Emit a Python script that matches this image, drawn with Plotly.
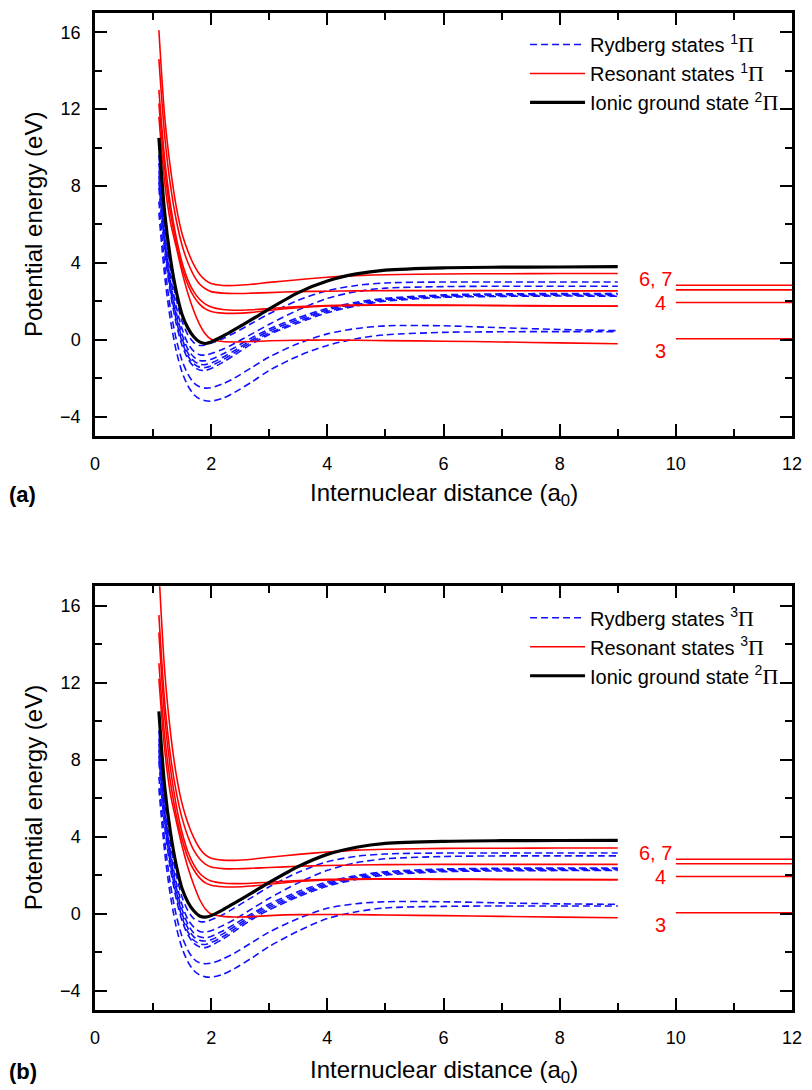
import plotly.graph_objects as go

# ---------------- data ----------------
r_grid = [1.1, 1.2, 1.3, 1.4, 1.5, 1.6, 1.7, 1.8, 1.9, 2.0, 2.2, 2.4, 2.7, 3.0,
          3.5, 4.0, 4.5, 5.0, 6.0, 7.0, 8.0, 9.0]

# Panel (a): singlet states
ionic_a = [10.5, 6.6, 4.2, 2.5, 1.3, 0.6, 0.15, -0.12, -0.2, -0.12, 0.18, 0.52, 1.05, 1.6,
           2.45, 3.05, 3.42, 3.62, 3.74, 3.77, 3.78, 3.8]

rydberg_a = [
    [9.6, 6.0, 3.7, 2.1, 0.95, 0.25, -0.15, -0.3, -0.28, -0.18, 0.05, 0.35, 0.85, 1.35, 2.05, 2.55, 2.82, 2.95, 3.0, 3.0, 3.0, 3.0],
    [9.2, 5.6, 3.3, 1.7, 0.55, -0.2, -0.6, -0.78, -0.8, -0.72, -0.5, -0.2, 0.3, 0.8, 1.55, 2.15, 2.5, 2.68, 2.76, 2.78, 2.78, 2.78],
    [8.8, 5.3, 3.0, 1.4, 0.25, -0.5, -0.9, -1.08, -1.1, -1.02, -0.75, -0.42, 0.1, 0.55, 1.15, 1.62, 1.95, 2.15, 2.33, 2.38, 2.4, 2.4],
    [8.5, 5.1, 2.8, 1.2, 0.05, -0.7, -1.1, -1.28, -1.3, -1.22, -0.92, -0.57, -0.02, 0.45, 1.05, 1.55, 1.88, 2.1, 2.28, 2.33, 2.35, 2.35],
    [8.2, 4.9, 2.6, 1.0, -0.12, -0.85, -1.25, -1.43, -1.45, -1.36, -1.05, -0.68, -0.12, 0.35, 0.95, 1.47, 1.82, 2.05, 2.24, 2.29, 2.31, 2.3],
    [7.9, 4.6, 2.4, 0.8, -0.3, -1.0, -1.4, -1.58, -1.6, -1.5, -1.18, -0.8, -0.22, 0.27, 0.87, 1.4, 1.76, 2.0, 2.2, 2.25, 2.27, 2.26],
    [7.2, 3.9, 1.6, 0.0, -1.1, -1.8, -2.25, -2.45, -2.52, -2.5, -2.3, -2.0, -1.45, -0.9, -0.2, 0.3, 0.58, 0.72, 0.72, 0.62, 0.53, 0.47],
    [6.6, 3.3, 1.0, -0.6, -1.7, -2.4, -2.85, -3.08, -3.18, -3.2, -3.05, -2.75, -2.2, -1.6, -0.85, -0.3, 0.05, 0.25, 0.38, 0.41, 0.42, 0.41],
]

resonant_a = [
    [16.1, 11.6, 8.9, 6.9, 5.5, 4.6, 3.9, 3.4, 3.1, 2.92, 2.82, 2.82, 2.88, 2.98, 3.12, 3.25, 3.33, 3.38, 3.42, 3.43, 3.44, 3.44],
    [14.6, 10.6, 8.0, 6.2, 4.9, 4.0, 3.35, 2.9, 2.65, 2.5, 2.42, 2.4, 2.42, 2.45, 2.5, 2.52, 2.54, 2.55, 2.55, 2.55, 2.54, 2.54],
    [13.0, 9.4, 7.0, 5.3, 4.0, 3.1, 2.5, 2.1, 1.85, 1.7, 1.57, 1.53, 1.56, 1.62, 1.72, 1.78, 1.8, 1.81, 1.8, 1.78, 1.76, 1.75],
    [12.3, 8.9, 6.6, 5.0, 3.75, 2.85, 2.25, 1.85, 1.6, 1.47, 1.38, 1.37, 1.42, 1.52, 1.66, 1.75, 1.78, 1.79, 1.78, 1.77, 1.75, 1.74],
    [11.6, 8.2, 6.1, 4.8, 3.5, 2.4, 1.5, 0.8, 0.3, 0.02, -0.1, -0.12, -0.1, -0.06, -0.03, -0.02, -0.03, -0.05, -0.08, -0.12, -0.17, -0.21],
]

# Panel (b): triplet states
ionic_b = [10.5, 6.6, 4.2, 2.5, 1.3, 0.6, 0.15, -0.12, -0.18, -0.1, 0.2, 0.55, 1.08, 1.62,
           2.45, 3.08, 3.45, 3.65, 3.76, 3.79, 3.8, 3.81]

rydberg_b = [
    [9.5, 5.9, 3.6, 2.0, 0.85, 0.15, -0.25, -0.4, -0.42, -0.32, -0.05, 0.3, 0.85, 1.4, 2.15, 2.7, 2.98, 3.1, 3.15, 3.15, 3.15, 3.15],
    [9.1, 5.5, 3.2, 1.6, 0.45, -0.3, -0.7, -0.92, -0.95, -0.88, -0.62, -0.3, 0.25, 0.8, 1.6, 2.25, 2.65, 2.85, 2.97, 3.0, 3.0, 3.0],
    [8.8, 5.3, 3.0, 1.35, 0.2, -0.55, -1.0, -1.2, -1.25, -1.18, -0.9, -0.55, 0.0, 0.5, 1.15, 1.65, 1.98, 2.18, 2.32, 2.36, 2.37, 2.37],
    [8.5, 5.0, 2.75, 1.15, 0.0, -0.75, -1.2, -1.38, -1.42, -1.35, -1.05, -0.68, -0.1, 0.4, 1.05, 1.57, 1.92, 2.12, 2.28, 2.32, 2.33, 2.33],
    [8.2, 4.8, 2.55, 0.95, -0.2, -0.95, -1.38, -1.56, -1.6, -1.5, -1.2, -0.8, -0.2, 0.3, 0.96, 1.5, 1.85, 2.06, 2.23, 2.27, 2.28, 2.28],
    [7.9, 4.5, 2.3, 0.75, -0.38, -1.1, -1.52, -1.72, -1.76, -1.65, -1.32, -0.92, -0.3, 0.2, 0.88, 1.43, 1.78, 2.0, 2.18, 2.22, 2.24, 2.24],
    [7.1, 3.8, 1.5, -0.1, -1.2, -1.9, -2.35, -2.55, -2.6, -2.57, -2.35, -2.05, -1.5, -0.95, -0.25, 0.28, 0.52, 0.62, 0.62, 0.56, 0.51, 0.49],
    [6.5, 3.2, 0.9, -0.7, -1.8, -2.5, -2.95, -3.18, -3.28, -3.3, -3.15, -2.85, -2.3, -1.7, -0.9, -0.25, 0.1, 0.3, 0.38, 0.4, 0.4, 0.4],
]

resonant_b = [
    [17.8, 12.6, 9.4, 7.2, 5.7, 4.7, 3.95, 3.4, 3.05, 2.88, 2.78, 2.77, 2.83, 2.93, 3.08, 3.2, 3.3, 3.35, 3.39, 3.4, 3.41, 3.41],
    [15.5, 11.0, 8.2, 6.3, 4.95, 4.0, 3.3, 2.85, 2.57, 2.42, 2.34, 2.33, 2.36, 2.4, 2.46, 2.5, 2.53, 2.55, 2.56, 2.56, 2.56, 2.56],
    [14.6, 10.2, 7.5, 5.6, 4.2, 3.2, 2.55, 2.1, 1.85, 1.7, 1.59, 1.56, 1.58, 1.63, 1.72, 1.78, 1.8, 1.81, 1.8, 1.79, 1.78, 1.77],
    [13.0, 9.2, 6.8, 5.1, 3.85, 2.9, 2.28, 1.86, 1.6, 1.48, 1.4, 1.39, 1.44, 1.53, 1.67, 1.75, 1.78, 1.79, 1.78, 1.77, 1.76, 1.76],
    [12.2, 8.5, 6.2, 4.8, 3.5, 2.4, 1.5, 0.75, 0.25, -0.02, -0.14, -0.17, -0.15, -0.1, -0.05, -0.04, -0.05, -0.07, -0.1, -0.14, -0.18, -0.21],
]

# Atomic limits (right side markers)
limit_x = [10.0, 12.0]
limit_values = [2.83, 2.59, 1.93, 0.05]
limit_labels = ["6, 7", "4", "3"]
limit_label_x = [9.65, 9.74, 9.74]
limit_label_y = [3.16, 1.89, -0.57]

x_ticks = [0, 2, 4, 6, 8, 10, 12]
y_ticks = [-4, 0, 4, 8, 12, 16]

# ---------------- figure ----------------
BLUE = "#1010ff"
RED = "#ff0000"
PI = "<span style=\"font-family:'Liberation Serif', serif; font-size:22px\">Π</span>"

fig = go.Figure()

panels = [
    ("x", "y", "legend", ionic_a, rydberg_a, resonant_a, "1"),
    ("x2", "y2", "legend2", ionic_b, rydberg_b, resonant_b, "3"),
]

for xa, ya, lg, ionic, ryd, res, mult in panels:
    for i, curve in enumerate(ryd):
        fig.add_trace(go.Scatter(
            x=r_grid, y=curve, xaxis=xa, yaxis=ya, mode="lines",
            line=dict(color=BLUE, width=1.6, dash="7px,4px", shape="spline", smoothing=0.8),
            name=f"Rydberg states <sup>{mult}</sup>{PI}", legend=lg, showlegend=(i == 0),
            legendrank=1))
    for i, curve in enumerate(res):
        fig.add_trace(go.Scatter(
            x=r_grid, y=curve, xaxis=xa, yaxis=ya, mode="lines",
            line=dict(color=RED, width=1.6, shape="spline", smoothing=0.8),
            name=f"Resonant states <sup>{mult}</sup>{PI}", legend=lg, showlegend=(i == 0),
            legendrank=2))
    fig.add_trace(go.Scatter(
        x=r_grid, y=ionic, xaxis=xa, yaxis=ya, mode="lines",
        line=dict(color="black", width=3.2, shape="spline", smoothing=0.8),
        name=f"Ionic ground state <sup>2</sup>{PI}", legend=lg, showlegend=True,
        legendrank=3))
    for v in limit_values:
        fig.add_trace(go.Scatter(
            x=limit_x, y=[v, v], xaxis=xa, yaxis=ya, mode="lines",
            line=dict(color=RED, width=1.6), showlegend=False, legend=lg))
    for t, lx, ly in zip(limit_labels, limit_label_x, limit_label_y):
        fig.add_annotation(x=lx, y=ly, xref=xa, yref=ya, text=t, showarrow=False,
                           font=dict(family="Liberation Sans, Arial", size=20, color=RED),
                           xanchor="center", yanchor="middle")

axis_common = dict(
    showline=True, linewidth=2.5, linecolor="black", mirror="allticks",
    ticks="inside", ticklen=12, tickwidth=2, tickcolor="black",
    showgrid=False, zeroline=False,
    tickfont=dict(family="Liberation Sans Narrow, Arial Narrow, Liberation Sans, sans-serif",
                  size=18, color="black"),
)

fig.update_layout(
    width=812, height=1090,
    margin=dict(l=95, r=15, t=10, b=80),
    paper_bgcolor="white", plot_bgcolor="white",
    showlegend=True,
    xaxis=dict(domain=[0, 1], anchor="y", range=[0, 12], tickvals=x_ticks,
               minor=dict(dtick=1, ticklen=7, ticks="inside", tickcolor="black", tickwidth=2),
               ticklabelstandoff=10, **axis_common),
    yaxis=dict(domain=[0.576, 1.0], anchor="x", range=[-5, 17], tickvals=y_ticks,
               minor=dict(dtick=2, ticklen=7, ticks="inside", tickcolor="black", tickwidth=2),
               ticklabelstandoff=8, **axis_common),
    xaxis2=dict(domain=[0, 1], anchor="y2", range=[0, 12], tickvals=x_ticks,
                minor=dict(dtick=1, ticklen=7, ticks="inside", tickcolor="black", tickwidth=2),
                ticklabelstandoff=10, **axis_common),
    yaxis2=dict(domain=[0.0, 0.425], anchor="x2", range=[-5, 17], tickvals=y_ticks,
                minor=dict(dtick=2, ticklen=7, ticks="inside", tickcolor="black", tickwidth=2),
                ticklabelstandoff=8, **axis_common),
    legend=dict(x=0.617, y=0.988, xanchor="left", yanchor="top", bgcolor="rgba(0,0,0,0)",
                font=dict(family="Liberation Sans, Arial", size=20, color="black"),
                itemwidth=55, tracegroupgap=0, traceorder="normal"),
    legend2=dict(x=0.617, y=0.413, xanchor="left", yanchor="top", bgcolor="rgba(0,0,0,0)",
                 font=dict(family="Liberation Sans, Arial", size=20, color="black"),
                 itemwidth=55, tracegroupgap=0, traceorder="normal"),
)

title_font = dict(family="Liberation Sans, Arial", size=24, color="black")
for ytitle, yx, xy, lab in [(0.788, -0.088, 0.517, "(a)"), (0.213, -0.088, -0.062, "(b)")]:
    fig.add_annotation(x=yx, y=ytitle, xref="paper", yref="paper", text="Potential energy (eV)",
                       textangle=-90, showarrow=False, font=title_font,
                       xanchor="center", yanchor="middle")
    fig.add_annotation(x=0.5, y=xy, xref="paper", yref="paper",
                       text="Internuclear distance (a<sub>0</sub>)", showarrow=False,
                       font=title_font, xanchor="center", yanchor="middle")
    fig.add_annotation(x=-0.104, y=xy, xref="paper", yref="paper", text=f"<b>{lab}</b>",
                       showarrow=False, font=dict(family="Liberation Sans, Arial", size=22, color="black"),
                       xanchor="center", yanchor="middle")

fig.write_html("out.html")
